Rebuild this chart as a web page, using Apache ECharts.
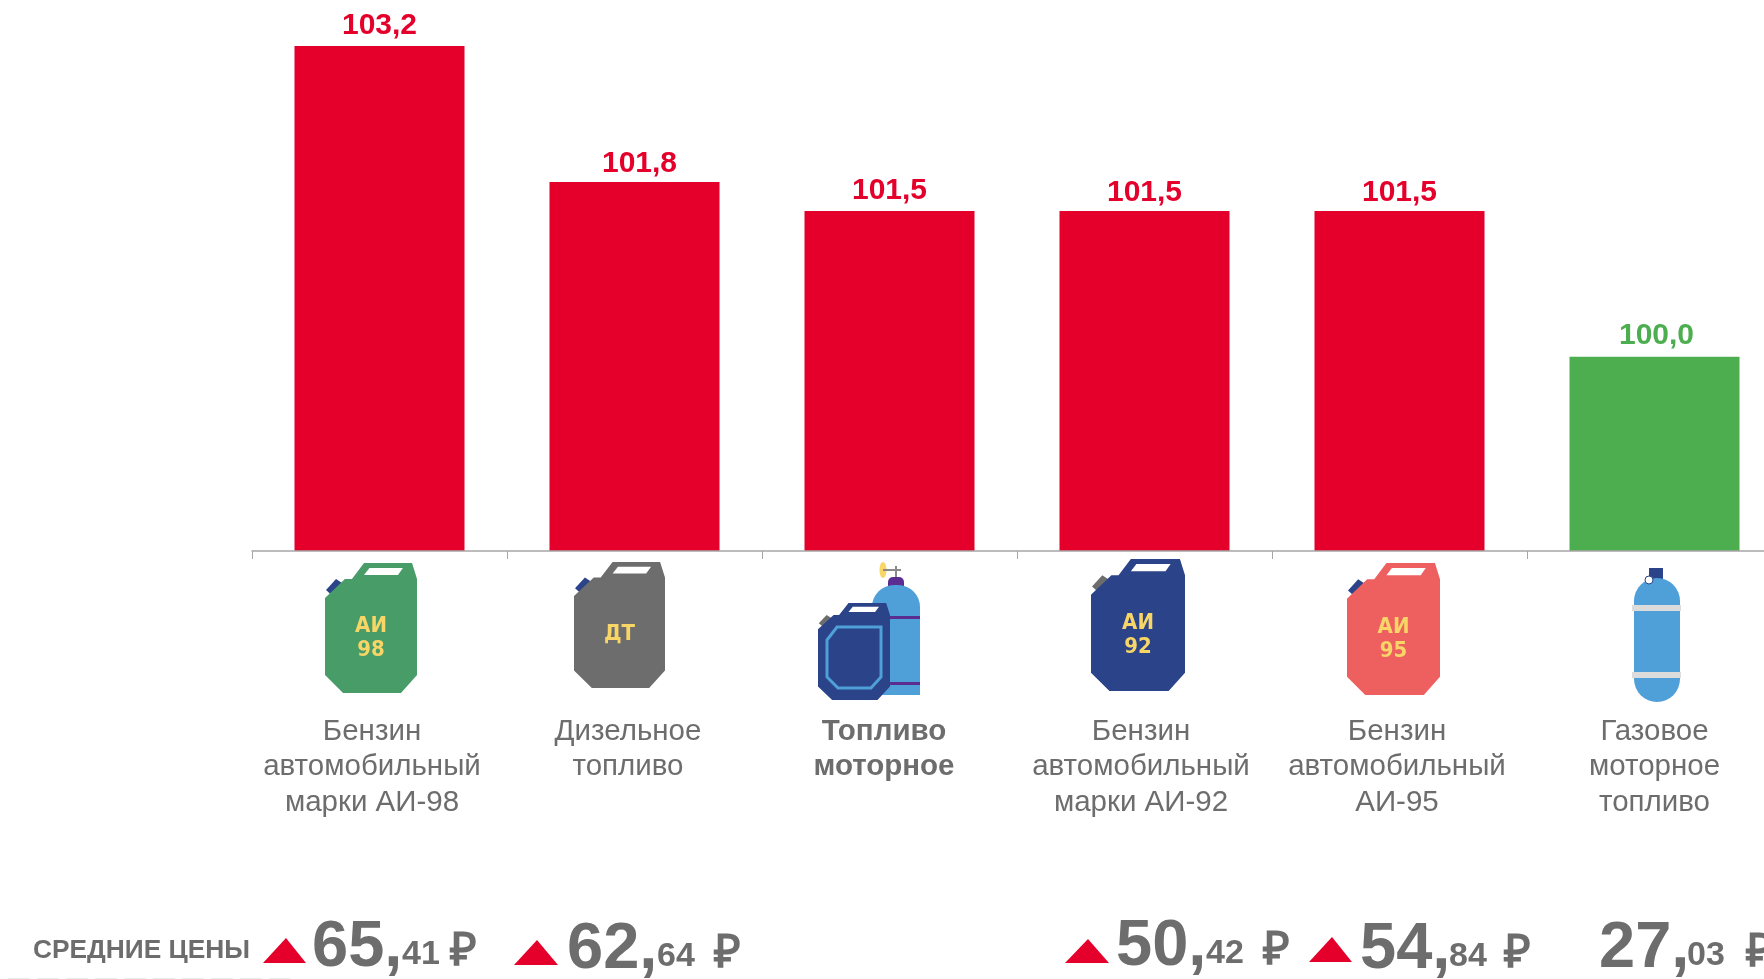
<!DOCTYPE html>
<html>
<head>
<meta charset="utf-8">
<title>Индексы цен на топливо</title>
<script src="https://cdn.jsdelivr.net/npm/echarts@6/dist/echarts.min.js"></script>
<style>
    html, body { margin: 0; padding: 0; background: #fff; overflow: hidden; }
    #chart { width: 1764px; height: 979px; }
</style>
</head>
<body>
<div id="chart"></div>
<script>
// Data
var categories = [
    'Бензин\nавтомобильный\nмарки АИ-98',
    'Дизельное\nтопливо',
    'Топливо\nмоторное',
    'Бензин\nавтомобильный\nмарки АИ-92',
    'Бензин\nавтомобильный\nАИ-95',
    'Газовое\nмоторное\nтопливо'
];
var priceIndex = [103.2, 101.8, 101.5, 101.5, 101.5, 100.0];
var prices = ['65,41', '62,64', '50,42', '54,84', '27,03'];
var priceTitle = 'СРЕДНИЕ ЦЕНЫ';

var RED = '#e4002b', GREEN = '#4cae4f', GREY = '#6d6d6d';
var FONT = '"Liberation Sans", Arial, sans-serif';
var NAVY = '#2b4389', BLUE = '#4f9fd9', YELLOW = '#f7d566', PURPLE = '#5c2d91';

// Layout tweaks per bar / per label (px)
var valueOffsets = [[0, 2], [5, 4], [0, 2], [0, 4], [0, 4], [2, 1]];
var labelShifts = [15, 13, 11, 7, 5, 0];

var graphics = [];

function poly(points, fill, extra) {
    var el = {type: 'polygon', shape: {points: points}, style: {fill: fill}, z: 10};
    if (extra) { el.style.stroke = extra.stroke; el.style.lineWidth = extra.lineWidth; }
    graphics.push(el);
}
function box(x, y, w, h, r, fill) {
    graphics.push({type: 'rect', shape: {x: x, y: y, width: w, height: h, r: r}, style: {fill: fill}, z: 10});
}
function label(x, y, text, size, fill, weight, family, align) {
    graphics.push({
        type: 'text', x: x, y: y, z: 11,
        style: {
            text: text, fill: fill, font: (weight || 'normal') + ' ' + size + 'px ' + (family || FONT),
            textAlign: align || 'center', textVerticalAlign: 'middle'
        }
    });
}

// jerry can, outline taken from the green one
function can(x, y, w, h, color, capColor, lines) {
    function pts(list) {
        return list.map(function (p) { return [x + p[0] * w, y + p[1] * h]; });
    }
    poly(pts([[0.011, 0.208], [0.12, 0.123], [0.185, 0.154], [0.07, 0.246]]), capColor);
    poly(pts([[0, 0.27], [0.217, 0.123], [0.293, 0.123], [0.424, 0], [0.946, 0], [1, 0.123],
        [1, 0.862], [0.826, 1], [0.196, 1], [0, 0.862]]), color);
    poly(pts([[0.424, 0.092], [0.483, 0.038], [0.847, 0.038], [0.793, 0.092]]), '#fff');
    for (var i = 0; i < lines.length; i++) {
        var cy = lines.length == 1 ? 0.575 : 0.58 + (i - 0.5) * 0.185;
        label(x + w * 0.5, y + h * cy, lines[i], 22, YELLOW, 'bold', '"DejaVu Sans Condensed", "DejaVu Sans", sans-serif');
    }
}

can(325, 563, 92, 130, '#479c67', NAVY, ['АИ', '98']);
can(574, 562, 91, 126, GREY, NAVY, ['ДТ']);

// mixed fuel: cylinder behind a small can
graphics.push({type: 'ellipse', shape: {cx: 883, cy: 570, rx: 3.5, ry: 8}, style: {fill: YELLOW}, z: 10});
box(883, 569, 18, 2, 0, '#8a8a8a');
box(895, 566, 2, 12, 0, '#8a8a8a');
box(888, 577, 16, 12, [5, 5, 0, 0], PURPLE);
box(872, 585, 48, 110, [22, 22, 0, 0], BLUE);
box(880, 616, 40, 3, 0, PURPLE);
box(880, 682, 40, 3, 0, PURPLE);
can(818, 603, 72, 97, NAVY, GREY, []);
poly([[827, 640], [837, 627], [881, 627], [881, 677], [871, 688], [838, 688], [827, 677]], NAVY, {stroke: BLUE, lineWidth: 3});

can(1091, 559, 94, 132, NAVY, GREY, ['АИ', '92']);
can(1347, 563, 93, 132, '#ee6060', NAVY, ['АИ', '95']);

// gas cylinder
box(1649, 568, 14, 12, 0, NAVY);
box(1634, 578, 46, 124, 23, BLUE);
graphics.push({type: 'circle', shape: {cx: 1649, cy: 580, r: 4}, style: {fill: '#fff', stroke: NAVY, lineWidth: 1}, z: 10});
box(1632, 605, 49, 6, 0, '#dcdcdc');
box(1632, 672, 49, 6, 0, '#dcdcdc');

// Average prices row
label(33, 951, priceTitle, 26.3, GREY, 'bold', FONT, 'left');

var triangles = [
    [[263, 963], [306, 963], [286, 938]],
    [[514, 965], [558, 965], [537, 940]],
    [[1065, 963], [1109, 963], [1088, 939]],
    [[1309, 962], [1352, 962], [1332, 937]]
];
triangles.forEach(function (t) { poly(t, RED); });

// x of whole part, x of kopecks, x of rouble sign, baseline
var priceSpots = [
    [312, 402, 450, 967],
    [567, 657, 714, 969],
    [1116, 1206, 1263, 966],
    [1360, 1449, 1504, 969],
    [1599, 1687, 1746, 968]
];
prices.forEach(function (p, i) {
    var parts = p.split(','), s = priceSpots[i];
    label(s[0], s[3] - 19, parts[0] + ',', 65, GREY, 'bold', FONT, 'left');
    label(s[1], s[3] - 12, parts[1], 34, GREY, 'bold', FONT, 'left');
    label(s[2], s[3] - 15, '₽', 46, GREY, 'bold', FONT, 'left');
});

// faint dashes cut off by the bottom edge
graphics.push({
    type: 'line', shape: {x1: 8, y1: 978.5, x2: 290, y2: 978.5},
    style: {stroke: '#ececec', lineWidth: 1, lineDash: [22, 7]}, z: 10
});

var chart = echarts.init(document.getElementById('chart'));
var option = {
    animation: false,
    backgroundColor: '#fff',
    grid: {left: 252, width: 1530, top: 46, height: 505, outerBoundsMode: 'none'},
    xAxis: {
        type: 'category',
        z: 5,
        data: categories.map(function (name, i) {
            return {
                value: name,
                textStyle: {
                    fontWeight: i == 2 ? 'bold' : 'normal',
                    padding: [0, labelShifts[i], 0, 0]
                }
            };
        }),
        axisLine: {lineStyle: {color: '#a6a6a6', width: 1.5}},
        axisTick: {show: true, length: 8, lineStyle: {color: '#a6a6a6', width: 1}},
        axisLabel: {
            interval: 0, margin: 163, color: GREY,
            fontFamily: FONT, fontSize: 29.5, lineHeight: 35.5
        }
    },
    yAxis: {type: 'value', min: 98, max: 103.2, show: false},
    series: [{
        type: 'bar',
        barWidth: 170,
        data: priceIndex.map(function (v, i) {
            var color = v > 100 ? RED : GREEN;
            return {
                value: v,
                itemStyle: {color: color},
                label: {color: color, offset: valueOffsets[i]}
            };
        }),
        label: {
            show: true, position: 'top', distance: 7,
            fontFamily: FONT, fontSize: 30, fontWeight: 'bold',
            formatter: function (p) { return p.value.toFixed(1).replace('.', ','); }
        }
    }],
    graphic: graphics
};
chart.setOption(option);

window.onresize = chart.resize;
</script>
</body>
</html>
